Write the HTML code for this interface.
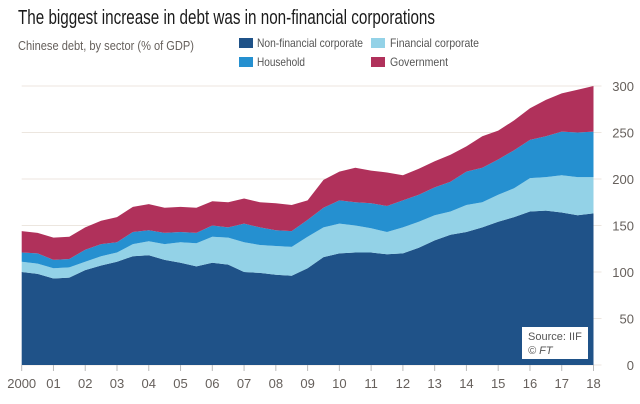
<!DOCTYPE html>
<html><head><meta charset="utf-8"><style>
body{margin:0;background:#fff;}
svg{display:block;font-family:"Liberation Sans",sans-serif;}
</style></head><body>
<svg id="chart" width="640" height="404" viewBox="0 0 640 404">
<text x="18" y="24" font-size="20" fill="#1a1a1a" textLength="417" lengthAdjust="spacingAndGlyphs">The biggest increase in debt was in non-financial corporations</text>
<text x="18" y="50" font-size="13" fill="#66605c" textLength="176" lengthAdjust="spacingAndGlyphs">Chinese debt, by sector (% of GDP)</text>
<g>
<g><rect x="239" y="38" width="14" height="10" fill="#1f5288"/><text x="257" y="47" font-size="12" fill="#555" textLength="106" lengthAdjust="spacingAndGlyphs">Non-financial corporate</text></g>
<g><rect x="371" y="38" width="14" height="10" fill="#93d2e7"/><text x="390" y="47" font-size="12" fill="#555" textLength="89" lengthAdjust="spacingAndGlyphs">Financial corporate</text></g>
<g><rect x="239" y="57" width="14" height="10" fill="#2590d0"/><text x="257" y="66" font-size="12" fill="#555" textLength="48" lengthAdjust="spacingAndGlyphs">Household</text></g>
<g><rect x="371" y="57" width="14" height="10" fill="#b0315b"/><text x="390" y="66" font-size="12" fill="#555" textLength="58" lengthAdjust="spacingAndGlyphs">Government</text></g>
</g>
<g id="grid"></g>
<g id="areas"></g>
<g id="axes"></g>
<g>
<rect x="522" y="327" width="66" height="32" fill="#fff"/>
<text x="528" y="340" font-size="11" fill="#555">Source: IIF</text>
<text x="528" y="354" font-size="11" fill="#555" font-style="italic">© FT</text>
</g>
</svg>
<script>
const years = [2000,2000.5,2001,2001.5,2002,2002.5,2003,2003.5,2004,2004.5,2005,2005.5,2006,2006.5,2007,2007.5,2008,2008.5,2009,2009.5,2010,2010.5,2011,2011.5,2012,2012.5,2013,2013.5,2014,2014.5,2015,2015.5,2016,2016.5,2017,2017.5,2018];
const nonFinancial = [100,98,93,94,102,107,111,117,118,113,110,106,110,108,100,99,97,96,104,116,120,121,121,119,120,126,134,140,143,148,154,159,165,166,164,161,163];
const financial = [11,11,11,11,9,10,10,13,15,17,22,25,28,29,32,30,31,31,34,32,32,29,26,24,28,28,27,25,29,27,29,31,36,36,40,41,39];
const household = [10,11,9,9,13,13,11,13,12,12,11,11,12,11,20,19,17,17,18,21,25,25,27,28,29,29,30,32,36,37,38,41,41,44,47,48,49];
const government = [23,22,24,24,24,25,27,27,28,27,27,27,26,27,27,27,29,28,21,30,31,37,35,36,27,28,28,29,27,34,31,32,34,39,41,46,49];
const yTicks = [0,50,100,150,200,250,300];
const xTickYears = [2000,2001,2002,2003,2004,2005,2006,2007,2008,2009,2010,2011,2012,2013,2014,2015,2016,2017,2018];
const xTickLabels = ["2000","01","02","03","04","05","06","07","08","09","10","11","12","13","14","15","16","17","18"];

const X0=21.7,X1=593.5,Y0=365,Y1=86;
const xs=v=>X0+(v-2000)/18*(X1-X0);
const ys=v=>Y0-v/300*(Y0-Y1);
const NS="http://www.w3.org/2000/svg";
const grid=document.getElementById('grid'),areas=document.getElementById('areas'),axes=document.getElementById('axes');
yTicks.forEach(t=>{
  const l=document.createElementNS(NS,'line');
  l.setAttribute('x1',X0);l.setAttribute('x2',X1+8);l.setAttribute('y1',ys(t));l.setAttribute('y2',ys(t));
  l.setAttribute('stroke','#ece6df');l.setAttribute('stroke-width','1');
  
  
  grid.appendChild(l);
  const tx=document.createElementNS(NS,'text');
  tx.setAttribute('x',634);tx.setAttribute('y',ys(t)+5);tx.setAttribute('text-anchor','end');
  tx.setAttribute('font-size','13');tx.setAttribute('fill','#66605c');tx.textContent=t;
  
  
  axes.appendChild(tx);
});
const series=[[nonFinancial,'#1f5288','area-non-financial'],[financial,'#93d2e7','area-financial'],[household,'#2590d0','area-household'],[government,'#b0315b','area-government']];
let base=years.map(()=>0);
series.forEach(([vals,col,name])=>{
  const top=base.map((b,i)=>b+vals[i]);
  let d='M'+years.map((y,i)=>xs(y).toFixed(1)+','+ys(top[i]).toFixed(1)).join('L');
  for(let i=years.length-1;i>=0;i--) d+='L'+xs(years[i]).toFixed(1)+','+ys(base[i]).toFixed(1);
  d+='Z';
  const p=document.createElementNS(NS,'path');
  p.setAttribute('d',d);p.setAttribute('fill',col);
  
  
  areas.appendChild(p);
  base=top;
});
xTickYears.forEach((yv,i)=>{
  const l=document.createElementNS(NS,'line');
  l.setAttribute('x1',xs(yv));l.setAttribute('x2',xs(yv));l.setAttribute('y1',Y0);l.setAttribute('y2',Y0+6);
  l.setAttribute('stroke','#bbb');
  
  
  axes.appendChild(l);
  const tx=document.createElementNS(NS,'text');
  tx.setAttribute('x',xs(yv));tx.setAttribute('y',388);tx.setAttribute('text-anchor','middle');
  tx.setAttribute('font-size','13');tx.setAttribute('fill','#66605c');tx.textContent=xTickLabels[i];
  
  
  axes.appendChild(tx);
});
</script>
</body></html>
